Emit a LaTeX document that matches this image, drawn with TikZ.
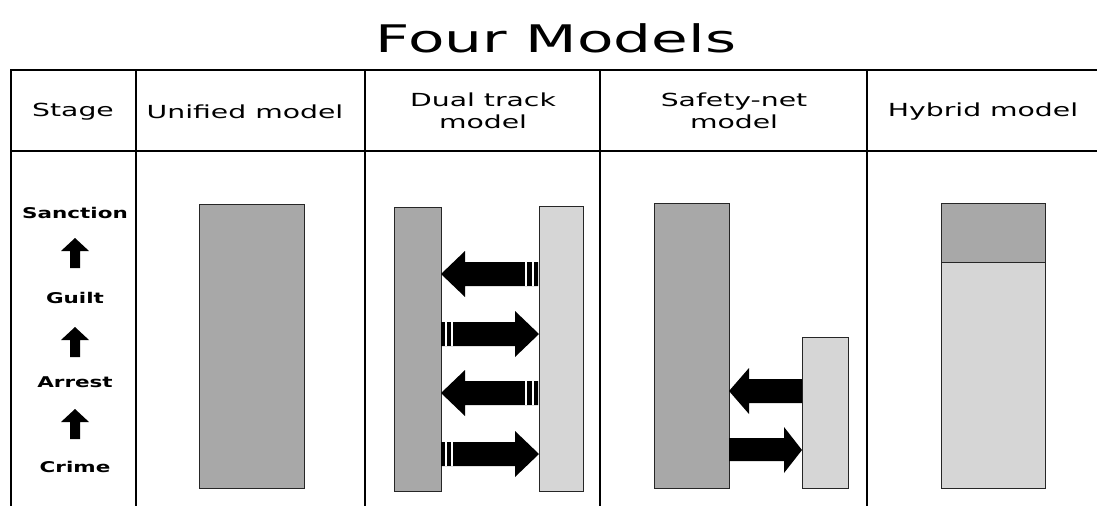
\documentclass[tikz,border=0pt]{standalone}
\usepackage{fontspec}
\setmainfont[FakeStretch=1.57]{DejaVu Sans}
\newfontfamily\stagefont[FakeStretch=1.45]{DejaVu Sans Bold}
\begin{document}
\begin{tikzpicture}[x=1pt,y=-1pt,
  rule/.style={line width=2.4pt, black},
  bar/.style={draw=black!85, line width=0.9pt, inner sep=0pt, anchor=north west},
  darkbar/.style={bar, fill=black!34},
  lightbar/.style={bar, fill=black!16},
  block/.style={fill=black},
  gap/.style={fill=white},
  hdr/.style={font=\fontsize{18}{22}\selectfont, align=center, inner sep=0pt},
  stg/.style={font=\stagefont\fontsize{14.8}{18}\selectfont, inner sep=0pt},
  ttl/.style={font=\fontsize{38}{44}\selectfont, inner sep=0pt}]
\useasboundingbox (0,0) rectangle (1097,506);

% title
\node[ttl] (title) at (556,38) {Four Models};

% table rules
\draw[rule] (10,70) -- (1097,70);
\draw[rule] (10,151) -- (1097,151);
\foreach \x in {11,136,365,600,867} \draw[rule] (\x,70) -- (\x,506);

% column headings
\node[hdr] (hstage) at (73,112) {Stage};
\node[hdr] (hunif)  at (245,112) {Unified model};
\node[hdr] (hdual)  at (483,111) {Dual track\\model};
\node[hdr] (hsafe)  at (734,111) {Safety-net\\model};
\node[hdr] (hhyb)   at (983,112) {Hybrid model};

% stages of the process
\node[stg] (sanction) at (75,213) {Sanction};
\node[stg] (guilt)    at (75,298) {Guilt};
\node[stg] (arrest)   at (75,382) {Arrest};
\node[stg] (crime)    at (75,467) {Crime};
\foreach \t in {238,327,409}
  \fill[block] (75,\t) -- (89,\t+13) -- (80,\t+13) -- (80,\t+30)
               -- (70,\t+30) -- (70,\t+13) -- (61,\t+13) -- cycle;

% unified model
\node[darkbar, minimum width=105pt, minimum height=284pt] (unif) at (199,204) {};

% dual track model
\node[darkbar, minimum width=47pt, minimum height=284pt] (dualA) at (394,207) {};
\node[lightbar, minimum width=44pt, minimum height=285pt] (dualB) at (539,206) {};
% arrows towards the left bar
\foreach \y in {274,393} {
  \fill[block] (441,\y) -- (465,\y-23) -- (465,\y-12) -- (538,\y-12)
               -- (538,\y+12) -- (465,\y+12) -- (465,\y+23) -- cycle;
  \fill[gap] (525,\y-12) rectangle (527,\y+12);
  \fill[gap] (532,\y-12) rectangle (534,\y+12);
}
% arrows towards the right bar
\foreach \y in {334,454} {
  \fill[block] (539,\y) -- (515,\y-23) -- (515,\y-12) -- (441,\y-12)
               -- (441,\y+12) -- (515,\y+12) -- (515,\y+23) -- cycle;
  \fill[gap] (445,\y-12) rectangle (447,\y+12);
  \fill[gap] (451,\y-12) rectangle (453,\y+12);
}

% safety-net model
\node[darkbar, minimum width=75pt, minimum height=285pt] (safeA) at (654,203) {};
\node[lightbar, minimum width=46pt, minimum height=151pt] (safeB) at (802,337) {};
\fill[block] (729,391) -- (749,368) -- (749,379) -- (802,379)
             -- (802,403) -- (749,403) -- (749,414) -- cycle;
\fill[block] (802,450) -- (784,427) -- (784,438) -- (729,438)
             -- (729,461) -- (784,461) -- (784,473) -- cycle;

% hybrid model
\node[darkbar, minimum width=104pt, minimum height=59pt] (hybA) at (941,203) {};
\node[lightbar, minimum width=104pt, minimum height=226pt] (hybB) at (941,262) {};
\end{tikzpicture}
\end{document}
